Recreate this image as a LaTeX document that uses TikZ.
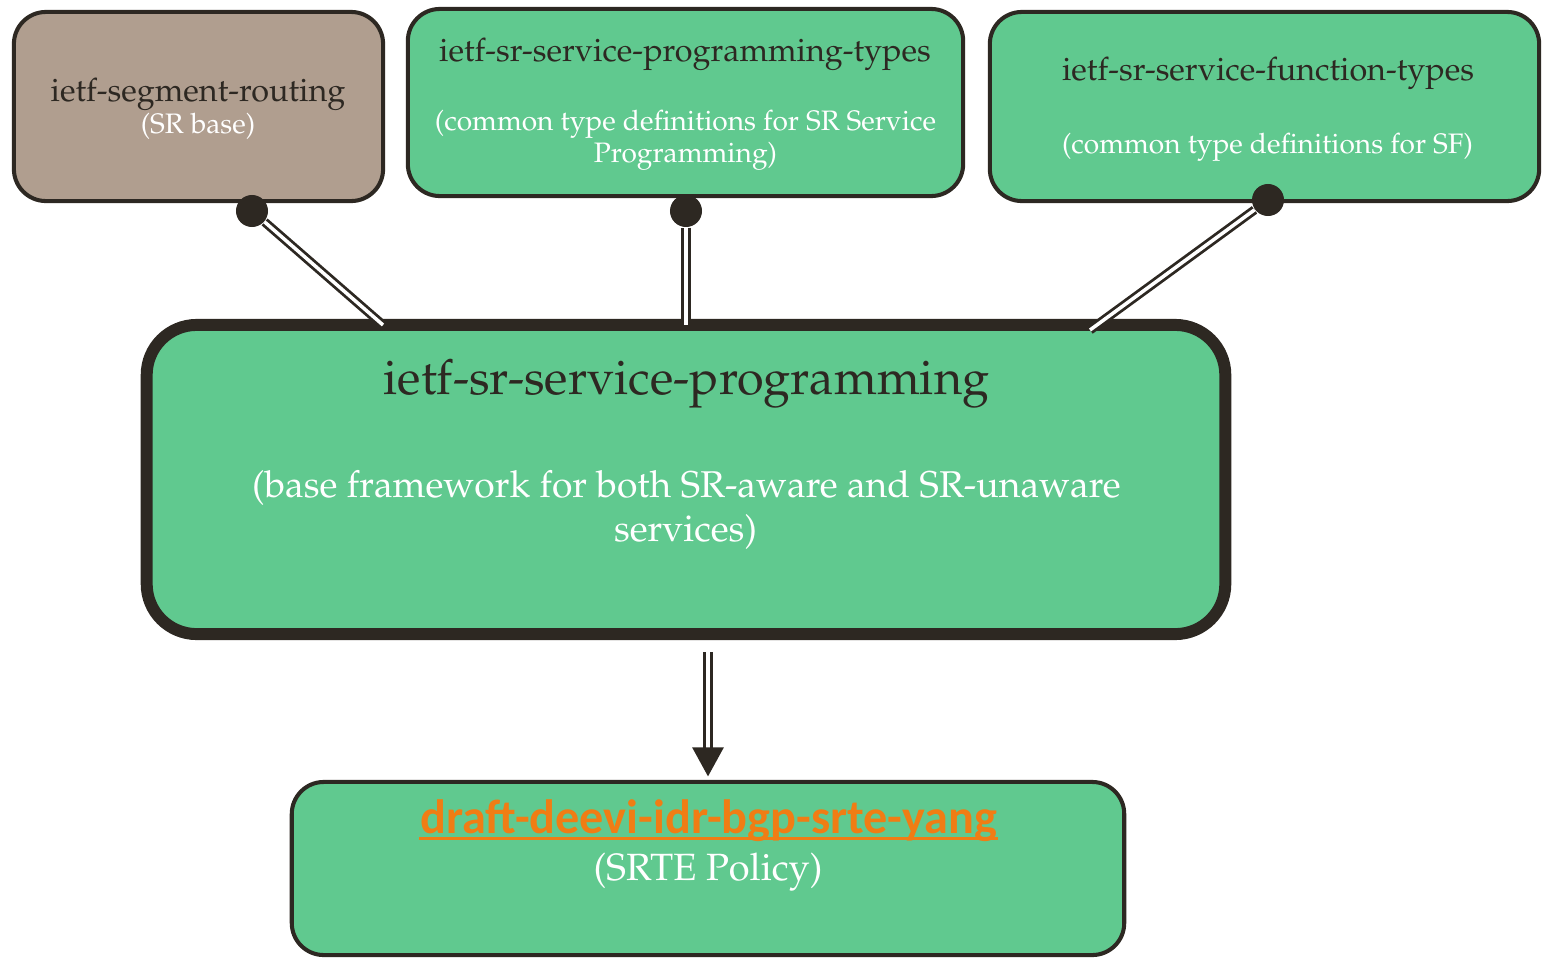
\documentclass[tikz,border=0pt]{standalone}
\usepackage[T1]{fontenc}
\usepackage{fontspec}
\usetikzlibrary{arrows.meta}
\newfontfamily\carlito{Carlito}
\newcommand\pala{\fontencoding{T1}\fontfamily{ppl}\selectfont}
\definecolor{box edge}{RGB}{45,40,34}
\definecolor{box area}{RGB}{96,201,143}
\definecolor{base area}{RGB}{176,158,143}
\definecolor{draft text}{RGB}{240,125,20}
\tikzset{module/.style={draw=box edge, fill=box area, line width=1.15pt, rounded corners=0.32cm, inner sep=0pt},
    title/.style={anchor=base, text=box edge, font=\pala\fontsize{9.2}{11}\selectfont},
    note/.style={anchor=base, text=white, font=\pala\fontsize{8}{10}\selectfont},
    link/.style={draw=box edge, line width=0.8pt, double=white, double distance=1pt},
    dot/.style={circle, fill=box edge, minimum size=0.32cm, inner sep=0pt}}

\begin{document}
\begin{tikzpicture}[x=0.01cm, y=-0.01cm]
    \useasboundingbox (0,0) rectangle (1542,957);
    % boxes
    \node[module, fill=base area, minimum width=3.69cm, minimum height=1.89cm] (srbase) at (198.5,106.5) {};
    \node[module, minimum width=5.55cm, minimum height=1.87cm] (sptypes) at (685.5,102.5) {};
    \node[module, minimum width=5.49cm, minimum height=1.89cm] (sftypes) at (1264.5,106.5) {};
    \node[module, line width=3.4pt, rounded corners=0.5cm, minimum width=10.78cm, minimum height=3.09cm] (srsp) at (686,479.5) {};
    \node[module, minimum width=8.32cm, minimum height=1.73cm] (srte) at (708,868.5) {};
    % texts
    \node[title] (srbase title) at (198,101) {ietf-segment-routing};
    \node[note] (srbase note) at (198,133) {(SR base)};
    \node[title] (sptypes title) at (685,61) {ietf-sr-service-programming-types};
    \node[note] (sptypes note) at (685.5,130) {(common type definitions for SR Service};
    \node[note] (sptypes note2) at (685.5,162) {Programming)};
    \node[title] (sftypes title) at (1268,80) {ietf-sr-service-function-types};
    \node[note] (sftypes note) at (1267.5,153) {(common type definitions for SF)};
    \node[title, font=\pala\fontsize{13.8}{16}\selectfont] (srsp title) at (686.5,394) {ietf-sr-service-programming};
    \node[note, font=\pala\fontsize{10.6}{13}\selectfont] (srsp note) at (686.5,497) {(base framework for both SR-aware and SR-unaware};
    \node[note, font=\pala\fontsize{10.6}{13}\selectfont] (srsp note2) at (685.5,541) {services)};
    \node[title, inner xsep=0pt, text=draft text, font=\carlito\bfseries\fontsize{13.7}{16}\selectfont] (srte title) at (708.5,833) {draft-deevi-idr-bgp-srte-yang};
    \node[note, font=\pala\fontsize{10.8}{13}\selectfont] (srte note) at (708,880) {(SRTE Policy)};
    \draw[draft text, line width=0.85pt] ([yshift=-1.7pt]srte title.base west) -- ([yshift=-1.7pt]srte title.base east);
    % links
    \coordinate (srsp in1) at (383,325);
    \coordinate (srsp in2) at (686,325);
    \coordinate (srsp in3) at (1090,330);
    \coordinate (srsp out) at (708,652);
    \node[dot] (srbase dot) at (252,211) {};
    \node[dot] (sptypes dot) at (686,211) {};
    \node[dot] (sftypes dot) at (1268,200) {};
    \draw[link] (srbase dot) -- (srsp in1);
    \draw[link] (sptypes dot) -- (srsp in2);
    \draw[link] (sftypes dot) -- (srsp in3);
    \draw[link, -{Triangle[width=3.1mm, length=2.9mm]}, shorten >=1pt] (srsp out) -- (srte);
\end{tikzpicture}
\end{document}
